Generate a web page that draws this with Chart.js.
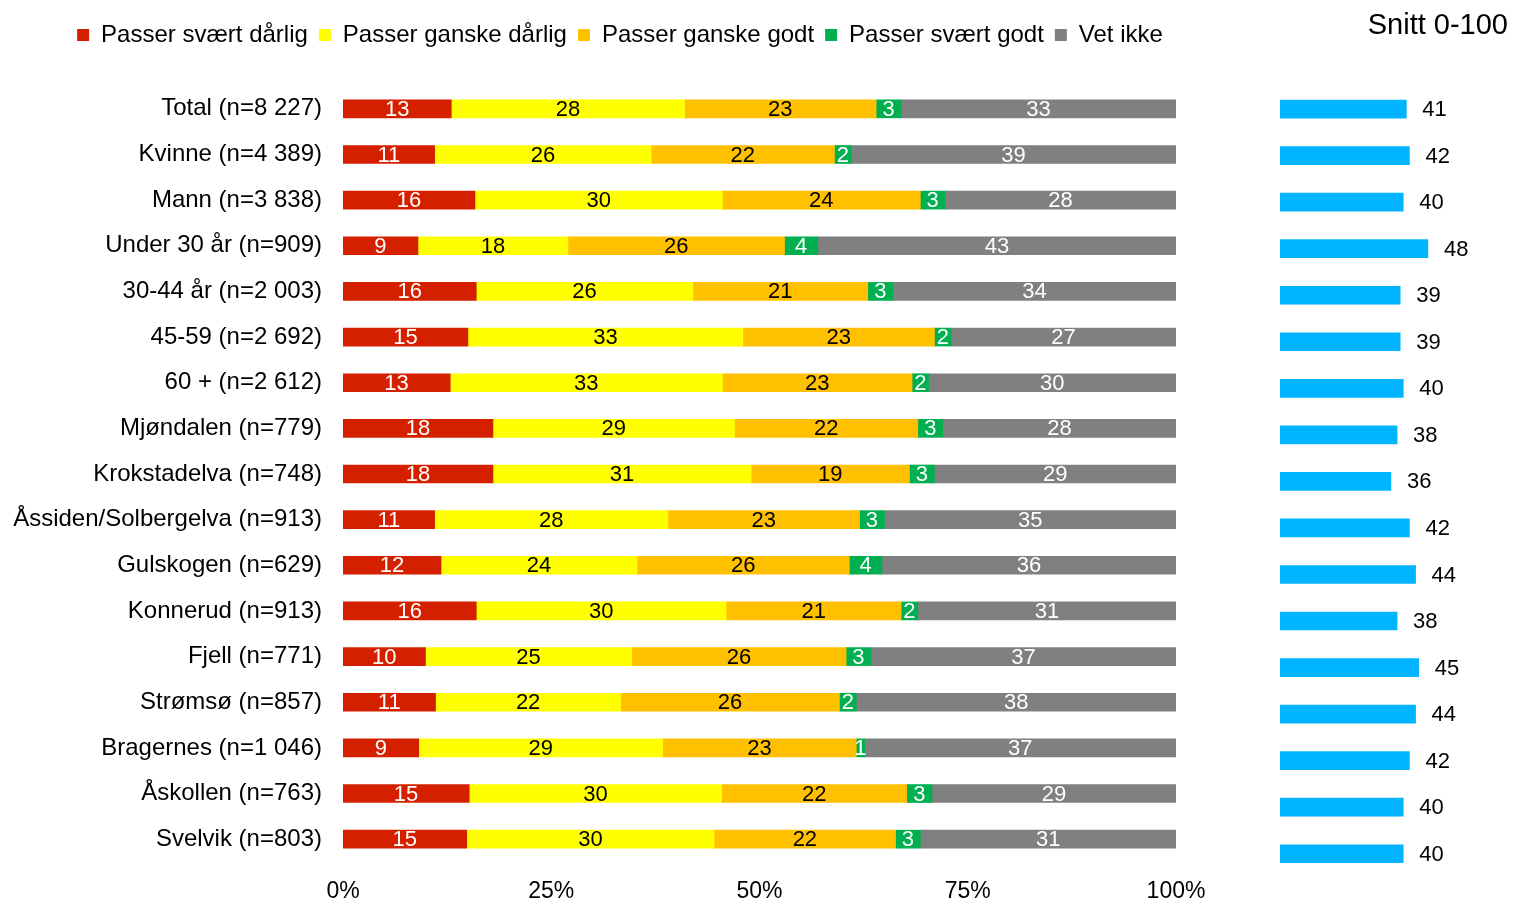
<!DOCTYPE html>
<html>
	<head>
		<meta charset="UTF-8" />
		<title>Passer svært dårlig / godt</title>
		<script src="https://cdn.jsdelivr.net/npm/chart.js"></script>
		<style>
			body { margin: 0; background: #fff; width: 1516px; height: 901px; overflow: hidden; position: relative; }
			#leftWrap { position: absolute; left: 0; top: 0; width: 1240px; height: 901px; }
			#rightWrap { position: absolute; left: 1240px; top: 0; width: 276px; height: 901px; }
		</style>
	</head>
	<body>
		<div id="leftWrap"><canvas id="mainChart"></canvas></div>
		<div id="rightWrap"><canvas id="snittChart"></canvas></div>

		<script>
			// kategorier (rader)
			const categories = [
			  'Total (n=8 227)', 'Kvinne (n=4 389)', 'Mann (n=3 838)', 'Under 30 år (n=909)',
			  '30-44 år (n=2 003)', '45-59 (n=2 692)', '60 + (n=2 612)', 'Mjøndalen (n=779)',
			  'Krokstadelva (n=748)', 'Åssiden/Solbergelva (n=913)', 'Gulskogen (n=629)',
			  'Konnerud (n=913)', 'Fjell (n=771)', 'Strømsø (n=857)', 'Bragernes (n=1 046)',
			  'Åskollen (n=763)', 'Svelvik (n=803)'
			];

			// andeler i prosent, en liste per svaralternativ
			const svaertDarlig = [13, 11, 16, 9, 16, 15, 13, 18, 18, 11, 12, 16, 10, 11, 9, 15, 15];
			const ganskeDarlig = [28, 26, 30, 18, 26, 33, 33, 29, 31, 28, 24, 30, 25, 22, 29, 30, 30];
			const ganskeGodt  = [23, 22, 24, 26, 21, 23, 23, 22, 19, 23, 26, 21, 26, 26, 23, 22, 22];
			const svaertGodt  = [3, 2, 3, 4, 3, 2, 2, 3, 3, 3, 4, 2, 3, 2, 1, 3, 3];
			const vetIkke     = [33, 39, 28, 43, 34, 27, 30, 28, 29, 35, 36, 31, 37, 38, 37, 29, 31];

			// snitt 0-100
			const snitt = [41, 42, 40, 48, 39, 39, 40, 38, 36, 42, 44, 38, 45, 44, 42, 40, 40];

			const xTicks = [0, 25, 50, 75, 100];

			const series = [
			  { label: 'Passer svært dårlig', values: svaertDarlig, color: '#D52000', text: '#ffffff' },
			  { label: 'Passer ganske dårlig', values: ganskeDarlig, color: '#FFFF00', text: '#000000' },
			  { label: 'Passer ganske godt', values: ganskeGodt, color: '#FFC000', text: '#000000' },
			  { label: 'Passer svært godt', values: svaertGodt, color: '#00B050', text: '#ffffff' },
			  { label: 'Vet ikke', values: vetIkke, color: '#808080', text: '#ffffff' }
			];

			const FONT = "'Liberation Sans', Arial, sans-serif";

			// 100 % stablet: hver rad skaleres til sum 100 (som i Excel)
			const rowSums = categories.map((c, i) => series.reduce((s, d) => s + d.values[i], 0));

			// tall inne i stolpene
			const segmentLabels = {
			  id: 'segmentLabels',
			  afterDatasetsDraw(chart) {
			    const ctx = chart.ctx;
			    ctx.save();
			    ctx.font = '22px ' + FONT;
			    ctx.textAlign = 'center';
			    ctx.textBaseline = 'middle';
			    chart.data.datasets.forEach((ds, di) => {
			      const meta = chart.getDatasetMeta(di);
			      meta.data.forEach((bar, i) => {
			        const x = (bar.x + bar.base) / 2;
			        ctx.fillStyle = series[di].text;
			        ctx.fillText(String(series[di].values[i]), x, bar.y + 1);
			      });
			    });
			    ctx.restore();
			  }
			};

			// tall til høyre for snitt-stolpene
			const valueLabels = {
			  id: 'valueLabels',
			  afterDatasetsDraw(chart) {
			    const ctx = chart.ctx;
			    ctx.save();
			    ctx.font = '22px ' + FONT;
			    ctx.fillStyle = '#000';
			    ctx.textAlign = 'left';
			    ctx.textBaseline = 'middle';
			    chart.getDatasetMeta(0).data.forEach((bar, i) => {
			      ctx.fillText(String(snitt[i]), bar.x + 16, bar.y + 1);
			    });
			    ctx.restore();
			  }
			};

			// fast høyde på legend-boksen slik at plottet starter riktig,
			// og legenden sentreres over hele venstre del
			const legendPlace = {
			  id: 'legendPlace',
			  beforeInit(chart) {
			    const fit = chart.legend.fit;
			    chart.legend.fit = function () {
			      fit.call(this);
			      this.height = 74;
			    };
			  },
			  afterLayout(chart) {
			    chart.legend.left += 64;
			  }
			};

			new Chart(document.getElementById('mainChart'), {
			  type: 'bar',
			  data: {
			    labels: categories,
			    datasets: series.map(s => ({
			      label: s.label,
			      data: s.values.map((v, i) => v / rowSums[i] * 100),
			      backgroundColor: s.color,
			      borderWidth: 0,
			      barThickness: 18
			    }))
			  },
			  options: {
			    indexAxis: 'y',
			    responsive: true,
			    maintainAspectRatio: false,
			    animation: false,
			    layout: { padding: { top: 12, right: 64, bottom: 0, left: 0 } },
			    scales: {
			      x: {
			        stacked: true,
			        min: 0,
			        max: 100,
			        border: { display: false },
			        grid: { display: false, drawTicks: false },
			        afterBuildTicks(scale) {
			          scale.ticks = xTicks.map(v => ({ value: v }));
			        },
			        afterFit(scale) { scale.height = 39; },
			        ticks: {
			          padding: 16,
			          color: '#000',
			          font: { family: FONT, size: 23 },
			          callback: v => v + '%'
			        }
			      },
			      y: {
			        stacked: true,
			        border: { display: false },
			        grid: { display: false, drawTicks: false },
			        afterFit(scale) { scale.width = 343; },
			        ticks: {
			          padding: 21,
			          color: '#000',
			          font: { family: FONT, size: 24 }
			        }
			      }
			    },
			    plugins: {
			      legend: {
			        position: 'top',
			        labels: {
			          boxWidth: 12,
			          boxHeight: 12,
			          padding: 11,
			          color: '#000',
			          font: { family: FONT, size: 24 }
			        }
			      },
			      tooltip: { enabled: false }
			    }
			  },
			  plugins: [segmentLabels, legendPlace]
			});

			new Chart(document.getElementById('snittChart'), {
			  type: 'bar',
			  data: {
			    labels: categories,
			    datasets: [{
			      label: 'Snitt 0-100',
			      data: snitt,
			      backgroundColor: '#00B4FF',
			      borderWidth: 0,
			      barThickness: 18
			    }]
			  },
			  options: {
			    indexAxis: 'y',
			    responsive: true,
			    maintainAspectRatio: false,
			    animation: false,
			    layout: { padding: { top: 0, right: 8, bottom: 24, left: 40 } },
			    scales: {
			      x: { display: false, min: 0, max: 74 },
			      y: { display: false }
			    },
			    plugins: {
			      legend: { display: false },
			      title: {
			        display: true,
			        text: 'Snitt 0-100',
			        align: 'end',
			        color: '#000',
			        font: { family: FONT, size: 29, weight: 'normal' },
			        padding: { top: 9, bottom: 42 }
			      },
			      tooltip: { enabled: false }
			    }
			  },
			  plugins: [valueLabels]
			});
		</script>
	</body>
</html>
